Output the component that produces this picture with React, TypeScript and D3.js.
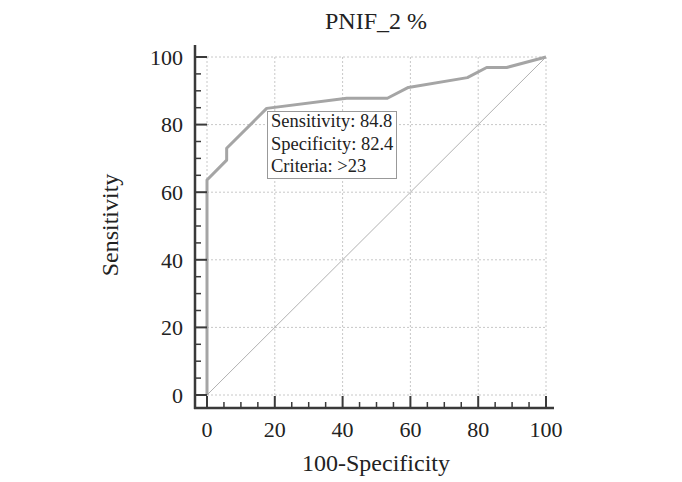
import React from "react";
import * as d3 from "d3";

const fpr: number[] = [0, 0, 5.8, 5.8, 17.6, 41.2, 53.2, 59.4, 76.8, 82.5, 88.4, 100];
const tpr: number[] = [0, 63.6, 69.5, 73, 84.8, 87.8, 87.8, 91, 93.9, 96.9, 96.9, 100];
const majorTicks: number[] = [0, 20, 40, 60, 80, 100];
const minorTicks: number[] = d3.range(0, 101, 5).filter((v) => v % 20 !== 0);
const titleText = "PNIF_2 %";
const xLabel = "100-Specificity";
const yLabel = "Sensitivity";
const boxLines: string[] = ["Sensitivity: 84.8", "Specificity: 82.4", "Criteria: >23"];

export default function App() {
  const W = 682, H = 482;
  const x = d3.scaleLinear().domain([0, 100]).range([207, 546]);
  const y = d3.scaleLinear().domain([0, 100]).range([395, 57]);
  const axX = 195; // y axis line x
  const axY = 408; // x axis line y
  const font = "'Liberation Serif', 'Times New Roman', serif";
  const pts = fpr.map((f, i) => [f, tpr[i]] as [number, number]);
  const line = d3.line<[number, number]>().x((d) => x(d[0])).y((d) => y(d[1]));
  const axisColor = "#3a3a3a";

  return (
    <svg width={W} height={H} style={{ position: "absolute", left: 0, top: 0, background: "#fff" }}>
      <rect x={0} y={0} width={W} height={H} fill="#fff" />
      {/* grid */}
      {majorTicks.map((t) => (
        <g key={"g" + t}>
          <line x1={x(t)} x2={x(t)} y1={y(0)} y2={y(100)} stroke="#c8c8c8" strokeWidth={1} strokeDasharray="2,2" />
          <line x1={x(0)} x2={x(100)} y1={y(t)} y2={y(t)} stroke="#c8c8c8" strokeWidth={1} strokeDasharray="2,2" />
        </g>
      ))}
      {/* diagonal */}
      <line x1={x(0)} y1={y(0)} x2={x(100)} y2={y(100)} stroke="#a8a8a8" strokeWidth={0.9} />
      {/* ROC curve */}
      <path d={line(pts) || ""} fill="none" stroke="#a5a5a5" strokeWidth={3} strokeLinejoin="round" />
      {/* axes */}
      <line x1={axX} x2={axX} y1={y(100) - 12} y2={axY + 1} stroke={axisColor} strokeWidth={2.5} />
      <line x1={axX - 1} x2={x(100) + 8} y1={axY} y2={axY} stroke={axisColor} strokeWidth={2.5} />
      {majorTicks.map((t) => (
        <g key={"mt" + t}>
          <line x1={axX} x2={axX + 12} y1={y(t)} y2={y(t)} stroke={axisColor} strokeWidth={2} />
          <line x1={x(t)} x2={x(t)} y1={axY} y2={axY - 12} stroke={axisColor} strokeWidth={2} />
          <text x={183} y={y(t)} dy="0.35em" textAnchor="end" fontFamily={font} fontSize={22} fill="#222">{t}</text>
          <text x={x(t)} y={437} textAnchor="middle" fontFamily={font} fontSize={22} fill="#222">{t}</text>
        </g>
      ))}
      {minorTicks.map((t) => (
        <g key={"mn" + t}>
          <line x1={axX} x2={axX + 6} y1={y(t)} y2={y(t)} stroke={axisColor} strokeWidth={1.5} />
          <line x1={x(t)} x2={x(t)} y1={axY} y2={axY - 6} stroke={axisColor} strokeWidth={1.5} />
        </g>
      ))}
      {/* labels */}
      <text x={376} y={29} textAnchor="middle" fontFamily={font} fontSize={24} fill="#222">{titleText}</text>
      <text x={376} y={471} textAnchor="middle" fontFamily={font} fontSize={24} fill="#222">{xLabel}</text>
      <text transform={`translate(118,225) rotate(-90)`} textAnchor="middle" fontFamily={font} fontSize={24} fill="#222">{yLabel}</text>
      {/* criterion box */}
      <rect x={267.5} y={111.5} width={129} height={67} fill="#fff" stroke="#999" strokeWidth={1} />
      {boxLines.map((s, i) => (
        <text key={s} x={271} y={127 + i * 22.5} fontFamily={font} fontSize={18.5} fill="#222">{s}</text>
      ))}
    </svg>
  );
}
